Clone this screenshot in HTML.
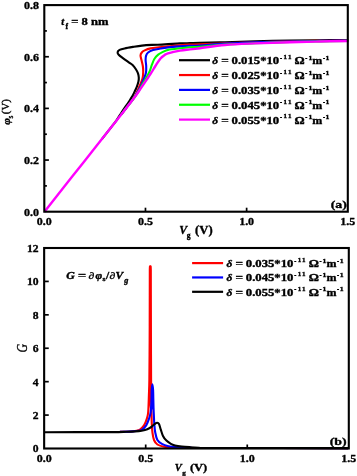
<!DOCTYPE html>
<html><head><meta charset="utf-8"><style>
html,body{margin:0;padding:0;background:#fff;}
svg{display:block;will-change:transform;filter:blur(0.25px);}
text{font-family:"Liberation Serif",serif;fill:#000;stroke:#000;stroke-width:0.35px;}
</style></head><body>
<svg width="357" height="476" viewBox="0 0 357 476">
<rect width="357" height="476" fill="#fff"/>
<path d="M101.70,139.30 C103.33,137.23 109.03,130.07 111.50,126.90 C113.97,123.73 114.83,122.70 116.50,120.30 C118.17,117.90 120.03,114.75 121.50,112.50 C122.97,110.25 124.13,108.50 125.30,106.80 C126.47,105.10 127.58,103.67 128.50,102.30 C129.42,100.93 130.03,99.85 130.80,98.60 C131.57,97.35 132.42,96.07 133.10,94.80 C133.78,93.53 134.28,92.33 134.90,91.00 C135.52,89.67 136.22,88.33 136.80,86.80 C137.38,85.27 138.07,83.33 138.40,81.80 C138.73,80.27 138.87,79.00 138.80,77.60 C138.73,76.20 138.48,74.80 138.00,73.40 C137.52,72.00 136.80,70.60 135.90,69.20 C135.00,67.80 133.78,66.15 132.60,65.00 C131.42,63.85 130.42,63.45 128.80,62.30 C127.18,61.15 124.58,59.37 122.90,58.10 C121.22,56.83 119.58,55.68 118.70,54.70 C117.82,53.72 117.45,53.00 117.60,52.20 C117.75,51.40 118.43,50.53 119.60,49.90 C120.77,49.27 122.37,48.90 124.60,48.40 C126.83,47.90 130.10,47.37 133.00,46.90 C135.90,46.43 138.83,45.93 142.00,45.60 C145.17,45.27 148.17,45.10 152.00,44.90 C155.83,44.70 160.33,44.65 165.00,44.40 C169.67,44.15 175.83,43.61 180.00,43.40 C184.17,43.19 186.67,43.23 190.00,43.15 C193.33,43.07 194.17,43.06 200.00,42.90 C205.83,42.74 215.83,42.47 225.00,42.20 C234.17,41.93 244.17,41.57 255.00,41.30 C265.83,41.03 279.17,40.77 290.00,40.60 C300.83,40.43 310.30,40.35 320.00,40.25 C329.70,40.15 343.50,40.04 348.20,40.00" stroke="#000" stroke-width="2.1" fill="none" stroke-linejoin="round"/>
<path d="M121.30,114.40 C122.42,112.93 126.18,108.00 128.00,105.60 C129.82,103.20 130.97,101.73 132.20,100.00 C133.43,98.27 134.42,96.95 135.40,95.20 C136.38,93.45 137.30,91.28 138.10,89.50 C138.90,87.72 139.47,86.33 140.20,84.50 C140.93,82.67 142.00,80.58 142.50,78.50 C143.00,76.42 143.13,74.00 143.20,72.00 C143.27,70.00 143.17,68.42 142.90,66.50 C142.63,64.58 142.00,62.32 141.60,60.50 C141.20,58.68 140.47,56.93 140.50,55.60 C140.53,54.27 141.10,53.37 141.80,52.50 C142.50,51.63 143.23,51.08 144.70,50.40 C146.17,49.72 148.22,48.92 150.60,48.40 C152.98,47.88 156.10,47.63 159.00,47.30 C161.90,46.97 164.50,46.75 168.00,46.40 C171.50,46.05 176.33,45.50 180.00,45.20 C183.67,44.90 186.67,44.74 190.00,44.60 C193.33,44.46 194.17,44.60 200.00,44.38 C205.83,44.17 215.83,43.68 225.00,43.32 C234.17,42.96 244.17,42.58 255.00,42.24 C265.83,41.91 279.17,41.56 290.00,41.32 C300.83,41.08 310.30,40.96 320.00,40.81 C329.70,40.67 343.50,40.51 348.20,40.45" stroke="#f00" stroke-width="2.1" fill="none" stroke-linejoin="round"/>
<path d="M121.30,114.40 C122.42,112.93 126.15,108.00 128.00,105.60 C129.85,103.20 131.12,101.73 132.40,100.00 C133.68,98.27 134.70,96.78 135.70,95.20 C136.70,93.62 137.55,92.03 138.40,90.50 C139.25,88.97 139.83,88.08 140.80,86.00 C141.77,83.92 143.33,80.25 144.20,78.00 C145.07,75.75 145.67,74.50 146.00,72.50 C146.33,70.50 146.27,68.08 146.20,66.00 C146.13,63.92 145.62,61.73 145.60,60.00 C145.58,58.27 145.68,56.85 146.10,55.60 C146.52,54.35 146.93,53.42 148.10,52.50 C149.27,51.58 151.00,50.77 153.10,50.10 C155.20,49.43 158.22,48.95 160.70,48.50 C163.18,48.05 164.78,47.75 168.00,47.40 C171.22,47.05 176.33,46.67 180.00,46.40 C183.67,46.13 186.67,45.96 190.00,45.80 C193.33,45.64 194.17,45.80 200.00,45.44 C205.83,45.09 215.83,44.16 225.00,43.66 C234.17,43.15 244.17,42.76 255.00,42.39 C265.83,42.02 279.17,41.68 290.00,41.43 C300.83,41.18 310.30,41.05 320.00,40.90 C329.70,40.75 343.50,40.58 348.20,40.52" stroke="#00f" stroke-width="2.1" fill="none" stroke-linejoin="round"/>
<path d="M121.30,114.40 C122.42,112.93 126.12,108.00 128.00,105.60 C129.88,103.20 131.27,101.73 132.60,100.00 C133.93,98.27 134.87,96.87 136.00,95.20 C137.13,93.53 138.37,91.78 139.40,90.00 C140.43,88.22 141.03,86.58 142.20,84.50 C143.37,82.42 145.17,79.67 146.40,77.50 C147.63,75.33 148.68,73.63 149.60,71.50 C150.52,69.37 151.08,66.82 151.90,64.70 C152.72,62.58 153.45,60.48 154.50,58.80 C155.55,57.12 156.78,55.75 158.20,54.60 C159.62,53.45 161.37,52.68 163.00,51.90 C164.63,51.12 165.17,50.50 168.00,49.90 C170.83,49.30 176.33,48.73 180.00,48.30 C183.67,47.87 186.67,47.56 190.00,47.30 C193.33,47.04 194.17,47.16 200.00,46.72 C205.83,46.28 215.83,45.24 225.00,44.66 C234.17,44.08 244.17,43.66 255.00,43.23 C265.83,42.80 279.17,42.38 290.00,42.07 C300.83,41.77 310.30,41.59 320.00,41.40 C329.70,41.21 343.50,41.00 348.20,40.92" stroke="#0f0" stroke-width="2.1" fill="none" stroke-linejoin="round"/>
<path d="M44.30,212.00 C49.08,205.93 63.43,187.72 73.00,175.60 C82.57,163.48 93.65,149.50 101.70,139.30 C109.75,129.10 115.53,121.78 121.30,114.40 C127.07,107.02 133.17,99.17 136.30,95.00 C139.43,90.83 138.62,91.60 140.10,89.40 C141.58,87.20 143.40,84.47 145.20,81.80 C147.00,79.13 149.20,76.03 150.90,73.40 C152.60,70.77 153.80,68.50 155.40,66.00 C157.00,63.50 158.97,60.23 160.50,58.40 C162.03,56.57 163.35,55.85 164.60,55.00 C165.85,54.15 165.43,54.03 168.00,53.30 C170.57,52.57 176.33,51.25 180.00,50.60 C183.67,49.95 186.67,49.80 190.00,49.40 C193.33,49.00 194.17,48.93 200.00,48.20 C205.83,47.47 215.83,45.80 225.00,45.00 C234.17,44.20 244.17,43.87 255.00,43.40 C265.83,42.93 279.17,42.52 290.00,42.20 C300.83,41.88 310.30,41.70 320.00,41.50 C329.70,41.30 343.50,41.08 348.20,41.00" stroke="#f0f" stroke-width="2.4" fill="none" stroke-linejoin="round"/>
<rect x="44.3" y="5.1" width="303.50" height="206.60" fill="none" stroke="#000" stroke-width="2.1"/>
<text transform="translate(39.00,215.60) scale(1.06,1)" font-size="11.3" text-anchor="end" font-weight="bold" font-style="normal">0.0</text>
<line x1="44.3" y1="185.88" x2="46.9" y2="185.88" stroke="#000" stroke-width="1.7"/>
<line x1="44.3" y1="160.05" x2="48.9" y2="160.05" stroke="#000" stroke-width="1.7"/>
<text transform="translate(39.00,163.95) scale(1.06,1)" font-size="11.3" text-anchor="end" font-weight="bold" font-style="normal">0.2</text>
<line x1="44.3" y1="134.22" x2="46.9" y2="134.22" stroke="#000" stroke-width="1.7"/>
<line x1="44.3" y1="108.40" x2="48.9" y2="108.40" stroke="#000" stroke-width="1.7"/>
<text transform="translate(39.00,112.30) scale(1.06,1)" font-size="11.3" text-anchor="end" font-weight="bold" font-style="normal">0.4</text>
<line x1="44.3" y1="82.57" x2="46.9" y2="82.57" stroke="#000" stroke-width="1.7"/>
<line x1="44.3" y1="56.75" x2="48.9" y2="56.75" stroke="#000" stroke-width="1.7"/>
<text transform="translate(39.00,60.65) scale(1.06,1)" font-size="11.3" text-anchor="end" font-weight="bold" font-style="normal">0.6</text>
<line x1="44.3" y1="30.92" x2="46.9" y2="30.92" stroke="#000" stroke-width="1.7"/>
<text transform="translate(39.00,9.00) scale(1.06,1)" font-size="11.3" text-anchor="end" font-weight="bold" font-style="normal">0.8</text>
<line x1="145.47" y1="211.7" x2="145.47" y2="207.7" stroke="#000" stroke-width="1.7"/>
<line x1="246.63" y1="211.7" x2="246.63" y2="207.7" stroke="#000" stroke-width="1.7"/>
<text transform="translate(44.30,224.60) scale(1.06,1)" font-size="11.3" text-anchor="middle" font-weight="bold" font-style="normal">0.0</text>
<text transform="translate(145.47,224.60) scale(1.06,1)" font-size="11.3" text-anchor="middle" font-weight="bold" font-style="normal">0.5</text>
<text transform="translate(246.63,224.60) scale(1.06,1)" font-size="11.3" text-anchor="middle" font-weight="bold" font-style="normal">1.0</text>
<text transform="translate(347.80,224.60) scale(1.06,1)" font-size="11.3" text-anchor="middle" font-weight="bold" font-style="normal">1.5</text>
<text transform="translate(179.30,234.00) scale(1.0,1)" font-size="11.8" text-anchor="start" font-weight="bold" font-style="italic">V</text>
<text transform="translate(186.70,237.90) scale(1.05,1)" font-size="7.2" text-anchor="start" font-weight="bold" font-style="normal">g</text>
<text transform="translate(195.10,234.30) scale(1.1,1)" font-size="11.5" text-anchor="start" font-weight="bold" font-style="normal">(V)</text>
<text transform="translate(330.80,207.90) scale(1.25,1)" font-size="11.0" text-anchor="start" font-weight="bold" font-style="normal">(a)</text>
<g transform="translate(8.9,124.8) rotate(-90)"><text transform="translate(0.00,1.10) scale(1.0,1)" font-size="11.3" text-anchor="start" font-weight="bold" font-style="italic">&#966;</text><text transform="translate(6.40,4.30) scale(1.0,1)" font-size="7.5" text-anchor="start" font-weight="normal" font-style="normal">s</text><text transform="translate(10.60,0.30) scale(1.0,1)" font-size="10.9" text-anchor="start" font-weight="normal" font-style="normal">(V)</text></g>
<text transform="translate(61.20,25.30) scale(1.0,1)" font-size="10.5" text-anchor="start" font-weight="bold" font-style="italic">t</text><text transform="translate(65.50,28.90) scale(1.0,1)" font-size="7.5" text-anchor="start" font-weight="bold" font-style="normal">f</text><text transform="translate(71.20,25.30) scale(1.2,1)" font-size="10.5" text-anchor="start" font-weight="bold" font-style="normal">= 8 nm</text>
<line x1="179" y1="60.20" x2="210" y2="60.20" stroke="#000" stroke-width="2.2"/><text transform="translate(212.30,64.20) scale(1.15,1)" font-size="10" text-anchor="start" font-weight="bold" font-style="italic">&#948;</text><text transform="translate(221.20,64.20) scale(1.32,1)" font-size="10" text-anchor="start" font-weight="bold" font-style="normal">=</text><text transform="translate(231.60,64.20) scale(1.27,1)" font-size="10" text-anchor="start" font-weight="bold" font-style="normal">0.015*10</text><text transform="translate(280.10,59.80) scale(0.9,1)" font-size="7" text-anchor="start" font-weight="bold" font-style="normal">-</text><text transform="translate(283.60,59.00) scale(1.0,1)" font-size="7" text-anchor="start" font-weight="bold" font-style="normal">1</text><text transform="translate(287.90,59.00) scale(1.0,1)" font-size="7" text-anchor="start" font-weight="bold" font-style="normal">1</text><text transform="translate(294.60,64.20) scale(1.27,1)" font-size="10" text-anchor="start" font-weight="bold" font-style="normal">&#937;</text><text transform="translate(305.30,59.80) scale(0.9,1)" font-size="7" text-anchor="start" font-weight="bold" font-style="normal">-</text><text transform="translate(308.40,59.80) scale(1.1,1)" font-size="7" text-anchor="start" font-weight="bold" font-style="normal">1</text><text transform="translate(312.30,64.20) scale(1.2,1)" font-size="10" text-anchor="start" font-weight="bold" font-style="normal">m</text><text transform="translate(322.90,59.80) scale(0.9,1)" font-size="7" text-anchor="start" font-weight="bold" font-style="normal">-</text><text transform="translate(325.60,59.80) scale(1.1,1)" font-size="7" text-anchor="start" font-weight="bold" font-style="normal">1</text>
<line x1="179" y1="75.05" x2="210" y2="75.05" stroke="#f00" stroke-width="2.2"/><text transform="translate(212.30,79.05) scale(1.15,1)" font-size="10" text-anchor="start" font-weight="bold" font-style="italic">&#948;</text><text transform="translate(221.20,79.05) scale(1.32,1)" font-size="10" text-anchor="start" font-weight="bold" font-style="normal">=</text><text transform="translate(231.60,79.05) scale(1.27,1)" font-size="10" text-anchor="start" font-weight="bold" font-style="normal">0.025*10</text><text transform="translate(280.10,74.65) scale(0.9,1)" font-size="7" text-anchor="start" font-weight="bold" font-style="normal">-</text><text transform="translate(283.60,73.85) scale(1.0,1)" font-size="7" text-anchor="start" font-weight="bold" font-style="normal">1</text><text transform="translate(287.90,73.85) scale(1.0,1)" font-size="7" text-anchor="start" font-weight="bold" font-style="normal">1</text><text transform="translate(294.60,79.05) scale(1.27,1)" font-size="10" text-anchor="start" font-weight="bold" font-style="normal">&#937;</text><text transform="translate(305.30,74.65) scale(0.9,1)" font-size="7" text-anchor="start" font-weight="bold" font-style="normal">-</text><text transform="translate(308.40,74.65) scale(1.1,1)" font-size="7" text-anchor="start" font-weight="bold" font-style="normal">1</text><text transform="translate(312.30,79.05) scale(1.2,1)" font-size="10" text-anchor="start" font-weight="bold" font-style="normal">m</text><text transform="translate(322.90,74.65) scale(0.9,1)" font-size="7" text-anchor="start" font-weight="bold" font-style="normal">-</text><text transform="translate(325.60,74.65) scale(1.1,1)" font-size="7" text-anchor="start" font-weight="bold" font-style="normal">1</text>
<line x1="179" y1="89.90" x2="210" y2="89.90" stroke="#00f" stroke-width="2.2"/><text transform="translate(212.30,93.90) scale(1.15,1)" font-size="10" text-anchor="start" font-weight="bold" font-style="italic">&#948;</text><text transform="translate(221.20,93.90) scale(1.32,1)" font-size="10" text-anchor="start" font-weight="bold" font-style="normal">=</text><text transform="translate(231.60,93.90) scale(1.27,1)" font-size="10" text-anchor="start" font-weight="bold" font-style="normal">0.035*10</text><text transform="translate(280.10,89.50) scale(0.9,1)" font-size="7" text-anchor="start" font-weight="bold" font-style="normal">-</text><text transform="translate(283.60,88.70) scale(1.0,1)" font-size="7" text-anchor="start" font-weight="bold" font-style="normal">1</text><text transform="translate(287.90,88.70) scale(1.0,1)" font-size="7" text-anchor="start" font-weight="bold" font-style="normal">1</text><text transform="translate(294.60,93.90) scale(1.27,1)" font-size="10" text-anchor="start" font-weight="bold" font-style="normal">&#937;</text><text transform="translate(305.30,89.50) scale(0.9,1)" font-size="7" text-anchor="start" font-weight="bold" font-style="normal">-</text><text transform="translate(308.40,89.50) scale(1.1,1)" font-size="7" text-anchor="start" font-weight="bold" font-style="normal">1</text><text transform="translate(312.30,93.90) scale(1.2,1)" font-size="10" text-anchor="start" font-weight="bold" font-style="normal">m</text><text transform="translate(322.90,89.50) scale(0.9,1)" font-size="7" text-anchor="start" font-weight="bold" font-style="normal">-</text><text transform="translate(325.60,89.50) scale(1.1,1)" font-size="7" text-anchor="start" font-weight="bold" font-style="normal">1</text>
<line x1="179" y1="104.75" x2="210" y2="104.75" stroke="#0f0" stroke-width="2.2"/><text transform="translate(212.30,108.75) scale(1.15,1)" font-size="10" text-anchor="start" font-weight="bold" font-style="italic">&#948;</text><text transform="translate(221.20,108.75) scale(1.32,1)" font-size="10" text-anchor="start" font-weight="bold" font-style="normal">=</text><text transform="translate(231.60,108.75) scale(1.27,1)" font-size="10" text-anchor="start" font-weight="bold" font-style="normal">0.045*10</text><text transform="translate(280.10,104.35) scale(0.9,1)" font-size="7" text-anchor="start" font-weight="bold" font-style="normal">-</text><text transform="translate(283.60,103.55) scale(1.0,1)" font-size="7" text-anchor="start" font-weight="bold" font-style="normal">1</text><text transform="translate(287.90,103.55) scale(1.0,1)" font-size="7" text-anchor="start" font-weight="bold" font-style="normal">1</text><text transform="translate(294.60,108.75) scale(1.27,1)" font-size="10" text-anchor="start" font-weight="bold" font-style="normal">&#937;</text><text transform="translate(305.30,104.35) scale(0.9,1)" font-size="7" text-anchor="start" font-weight="bold" font-style="normal">-</text><text transform="translate(308.40,104.35) scale(1.1,1)" font-size="7" text-anchor="start" font-weight="bold" font-style="normal">1</text><text transform="translate(312.30,108.75) scale(1.2,1)" font-size="10" text-anchor="start" font-weight="bold" font-style="normal">m</text><text transform="translate(322.90,104.35) scale(0.9,1)" font-size="7" text-anchor="start" font-weight="bold" font-style="normal">-</text><text transform="translate(325.60,104.35) scale(1.1,1)" font-size="7" text-anchor="start" font-weight="bold" font-style="normal">1</text>
<line x1="179" y1="119.60" x2="210" y2="119.60" stroke="#f0f" stroke-width="2.2"/><text transform="translate(212.30,123.60) scale(1.15,1)" font-size="10" text-anchor="start" font-weight="bold" font-style="italic">&#948;</text><text transform="translate(221.20,123.60) scale(1.32,1)" font-size="10" text-anchor="start" font-weight="bold" font-style="normal">=</text><text transform="translate(231.60,123.60) scale(1.27,1)" font-size="10" text-anchor="start" font-weight="bold" font-style="normal">0.055*10</text><text transform="translate(280.10,119.20) scale(0.9,1)" font-size="7" text-anchor="start" font-weight="bold" font-style="normal">-</text><text transform="translate(283.60,118.40) scale(1.0,1)" font-size="7" text-anchor="start" font-weight="bold" font-style="normal">1</text><text transform="translate(287.90,118.40) scale(1.0,1)" font-size="7" text-anchor="start" font-weight="bold" font-style="normal">1</text><text transform="translate(294.60,123.60) scale(1.27,1)" font-size="10" text-anchor="start" font-weight="bold" font-style="normal">&#937;</text><text transform="translate(305.30,119.20) scale(0.9,1)" font-size="7" text-anchor="start" font-weight="bold" font-style="normal">-</text><text transform="translate(308.40,119.20) scale(1.1,1)" font-size="7" text-anchor="start" font-weight="bold" font-style="normal">1</text><text transform="translate(312.30,123.60) scale(1.2,1)" font-size="10" text-anchor="start" font-weight="bold" font-style="normal">m</text><text transform="translate(322.90,119.20) scale(0.9,1)" font-size="7" text-anchor="start" font-weight="bold" font-style="normal">-</text><text transform="translate(325.60,119.20) scale(1.1,1)" font-size="7" text-anchor="start" font-weight="bold" font-style="normal">1</text>
<path d="M120.00,431.90 C122.00,431.83 128.75,431.83 132.00,431.50 C135.25,431.17 137.50,430.92 139.50,429.90 C141.50,428.88 142.78,427.27 144.00,425.40 C145.22,423.53 146.10,420.93 146.80,418.70 C147.50,416.47 147.85,415.95 148.20,412.00 C148.55,408.05 148.71,400.33 148.90,395.00 C149.09,389.67 149.22,389.17 149.35,380.00 C149.47,370.83 149.58,353.33 149.65,340.00 C149.72,326.67 149.72,311.67 149.75,300.00 C149.78,288.33 149.71,275.53 149.80,270.00 C149.89,264.47 150.13,266.80 150.30,266.80 C150.47,266.80 150.71,264.47 150.80,270.00 C150.89,275.53 150.82,288.33 150.85,300.00 C150.88,311.67 150.91,326.67 150.95,340.00 C150.99,353.33 151.04,370.00 151.10,380.00 C151.16,390.00 151.23,394.33 151.30,400.00 C151.37,405.67 151.42,410.00 151.50,414.00 C151.58,418.00 151.65,420.97 151.80,424.00 C151.95,427.03 152.03,429.53 152.40,432.20 C152.77,434.87 153.17,437.95 154.00,440.00 C154.83,442.05 155.72,443.38 157.40,444.50 C159.08,445.62 161.17,446.20 164.10,446.70 C167.03,447.20 170.68,447.32 175.00,447.50 C179.32,447.68 185.00,447.72 190.00,447.80 C195.00,447.88 178.63,447.95 205.00,448.00 C231.37,448.05 324.33,448.08 348.20,448.10" stroke="#f00" stroke-width="2.1" fill="none" stroke-linejoin="round"/>
<path d="M148.20,412.00 C148.32,409.17 148.71,400.33 148.90,395.00 C149.09,389.67 149.22,389.17 149.35,380.00 C149.47,370.83 149.58,353.33 149.65,340.00 C149.72,326.67 149.72,311.67 149.75,300.00 C149.78,288.33 149.71,275.53 149.80,270.00 C149.89,264.47 150.13,266.80 150.30,266.80 C150.47,266.80 150.71,264.47 150.80,270.00 C150.89,275.53 150.82,288.33 150.85,300.00 C150.88,311.67 150.91,326.67 150.95,340.00 C150.99,353.33 151.04,370.00 151.10,380.00 C151.16,390.00 151.27,396.67 151.30,400.00 Z" fill="#f00" stroke="none"/>
<path d="M120.00,431.90 C122.17,431.82 129.38,431.73 133.00,431.40 C136.62,431.07 139.50,430.90 141.70,429.90 C143.90,428.90 144.98,427.27 146.20,425.40 C147.42,423.53 148.25,420.93 149.00,418.70 C149.75,416.47 150.29,415.12 150.70,412.00 C151.11,408.88 151.28,403.67 151.45,400.00 C151.62,396.33 151.54,392.62 151.70,390.00 C151.86,387.38 152.17,384.30 152.40,384.30 C152.63,384.30 152.95,387.72 153.10,390.00 C153.25,392.28 153.23,395.00 153.30,398.00 C153.38,401.00 153.46,405.17 153.55,408.00 C153.64,410.83 153.72,412.33 153.85,415.00 C153.97,417.67 154.08,421.13 154.30,424.00 C154.53,426.87 154.68,429.53 155.20,432.20 C155.72,434.87 156.28,438.05 157.40,440.00 C158.52,441.95 160.03,442.87 161.90,443.90 C163.77,444.93 166.42,445.68 168.60,446.20 C170.78,446.72 171.43,446.77 175.00,447.00 C178.57,447.23 185.00,447.43 190.00,447.60 C195.00,447.77 178.63,447.92 205.00,448.00 C231.37,448.08 324.33,448.08 348.20,448.10" stroke="#00f" stroke-width="2.1" fill="none" stroke-linejoin="round"/>
<path d="M150.70,412.00 C150.82,410.00 151.28,403.67 151.45,400.00 C151.62,396.33 151.54,392.62 151.70,390.00 C151.86,387.38 152.17,384.30 152.40,384.30 C152.63,384.30 152.95,387.72 153.10,390.00 C153.25,392.28 153.23,395.00 153.30,398.00 C153.38,401.00 153.51,406.33 153.55,408.00 Z" fill="#00f" stroke="none"/>
<path d="M44.30,432.20 C55.25,432.18 96.38,432.17 110.00,432.10 C123.62,432.03 121.83,431.92 126.00,431.80 C130.17,431.68 132.38,431.58 135.00,431.40 C137.62,431.22 139.65,431.05 141.70,430.70 C143.75,430.35 145.62,429.98 147.30,429.30 C148.98,428.62 150.48,427.55 151.80,426.60 C153.12,425.65 154.30,424.25 155.20,423.60 C156.10,422.95 156.57,422.63 157.20,422.70 C157.83,422.77 158.40,422.85 159.00,424.00 C159.60,425.15 160.13,427.62 160.80,429.60 C161.47,431.58 162.07,434.07 163.00,435.90 C163.93,437.73 165.08,439.27 166.40,440.60 C167.72,441.93 169.47,443.10 170.90,443.90 C172.33,444.70 173.18,444.97 175.00,445.40 C176.82,445.83 179.30,446.20 181.80,446.50 C184.30,446.80 187.20,447.00 190.00,447.20 C192.80,447.40 195.27,447.57 198.60,447.70 C201.93,447.83 185.07,447.93 210.00,448.00 C234.93,448.07 325.17,448.08 348.20,448.10" stroke="#000" stroke-width="2.1" fill="none" stroke-linejoin="round"/>
<rect x="44.15" y="248.0" width="304.65" height="200.50" fill="none" stroke="#000" stroke-width="2.1"/>
<text transform="translate(38.60,452.40) scale(1.03,1)" font-size="11.3" text-anchor="end" font-weight="bold" font-style="normal">0</text>
<line x1="44.15" y1="415.08" x2="48.75" y2="415.08" stroke="#000" stroke-width="1.7"/>
<text transform="translate(38.60,418.98) scale(1.03,1)" font-size="11.3" text-anchor="end" font-weight="bold" font-style="normal">2</text>
<line x1="44.15" y1="381.67" x2="48.75" y2="381.67" stroke="#000" stroke-width="1.7"/>
<text transform="translate(38.60,385.57) scale(1.03,1)" font-size="11.3" text-anchor="end" font-weight="bold" font-style="normal">4</text>
<line x1="44.15" y1="348.25" x2="48.75" y2="348.25" stroke="#000" stroke-width="1.7"/>
<text transform="translate(38.60,352.15) scale(1.03,1)" font-size="11.3" text-anchor="end" font-weight="bold" font-style="normal">6</text>
<line x1="44.15" y1="314.83" x2="48.75" y2="314.83" stroke="#000" stroke-width="1.7"/>
<text transform="translate(38.60,318.73) scale(1.03,1)" font-size="11.3" text-anchor="end" font-weight="bold" font-style="normal">8</text>
<line x1="44.15" y1="281.42" x2="48.75" y2="281.42" stroke="#000" stroke-width="1.7"/>
<text transform="translate(38.60,285.32) scale(1.03,1)" font-size="11.3" text-anchor="end" font-weight="bold" font-style="normal">10</text>
<text transform="translate(38.60,251.90) scale(1.03,1)" font-size="11.3" text-anchor="end" font-weight="bold" font-style="normal">12</text>
<line x1="145.70" y1="448.5" x2="145.70" y2="444.5" stroke="#000" stroke-width="1.7"/>
<line x1="247.25" y1="448.5" x2="247.25" y2="444.5" stroke="#000" stroke-width="1.7"/>
<text transform="translate(44.15,461.60) scale(1.06,1)" font-size="11.3" text-anchor="middle" font-weight="bold" font-style="normal">0.0</text>
<text transform="translate(145.70,461.60) scale(1.06,1)" font-size="11.3" text-anchor="middle" font-weight="bold" font-style="normal">0.5</text>
<text transform="translate(247.25,461.60) scale(1.06,1)" font-size="11.3" text-anchor="middle" font-weight="bold" font-style="normal">1.0</text>
<text transform="translate(348.80,461.60) scale(1.06,1)" font-size="11.3" text-anchor="middle" font-weight="bold" font-style="normal">1.5</text>
<text transform="translate(174.80,471.00) scale(1.0,1)" font-size="10.5" text-anchor="start" font-weight="bold" font-style="italic">V</text>
<text transform="translate(182.20,474.80) scale(1.05,1)" font-size="6.8" text-anchor="start" font-weight="bold" font-style="normal">g</text>
<text transform="translate(189.90,471.30) scale(1.1,1)" font-size="11.4" text-anchor="start" font-weight="bold" font-style="normal">(V)</text>
<text transform="translate(329.70,444.50) scale(1.25,1)" font-size="11.0" text-anchor="start" font-weight="bold" font-style="normal">(b)</text>
<g transform="translate(26.9,352.4) rotate(-90)"><text transform="translate(0.00,0.00) scale(0.82,1)" font-size="14.5" text-anchor="start" font-weight="normal" font-style="italic">G</text></g>
<text transform="translate(66.30,278.60) scale(1.25,1)" font-size="9.5" text-anchor="start" font-weight="bold" font-style="italic">G</text><text transform="translate(77.90,278.60) scale(1.5,1)" font-size="9.5" text-anchor="start" font-weight="bold" font-style="normal">=</text><text transform="translate(88.60,278.60) scale(1.2,1)" font-size="9.5" text-anchor="start" font-weight="bold" font-style="italic">&#8706;</text><text transform="translate(95.60,278.60) scale(1.2,1)" font-size="9.5" text-anchor="start" font-weight="bold" font-style="italic">&#966;</text><text transform="translate(102.60,281.00) scale(1.1,1)" font-size="7" text-anchor="start" font-weight="bold" font-style="normal">s</text><text transform="translate(106.00,278.60) scale(1.2,1)" font-size="9.5" text-anchor="start" font-weight="bold" font-style="normal">/</text><text transform="translate(109.40,278.60) scale(1.2,1)" font-size="9.5" text-anchor="start" font-weight="bold" font-style="italic">&#8706;</text><text transform="translate(115.50,278.60) scale(1.2,1)" font-size="9.5" text-anchor="start" font-weight="bold" font-style="italic">V</text><text transform="translate(124.30,282.80) scale(1.1,1)" font-size="7.5" text-anchor="start" font-weight="bold" font-style="italic">g</text>
<line x1="192.1" y1="263.10" x2="223.1" y2="263.10" stroke="#f00" stroke-width="2.2"/><text transform="translate(226.50,267.10) scale(1.15,1)" font-size="10" text-anchor="start" font-weight="bold" font-style="italic">&#948;</text><text transform="translate(235.40,267.10) scale(1.32,1)" font-size="10" text-anchor="start" font-weight="bold" font-style="normal">=</text><text transform="translate(245.80,267.10) scale(1.27,1)" font-size="10" text-anchor="start" font-weight="bold" font-style="normal">0.035*10</text><text transform="translate(294.30,262.70) scale(0.9,1)" font-size="7" text-anchor="start" font-weight="bold" font-style="normal">-</text><text transform="translate(297.80,261.90) scale(1.0,1)" font-size="7" text-anchor="start" font-weight="bold" font-style="normal">1</text><text transform="translate(302.10,261.90) scale(1.0,1)" font-size="7" text-anchor="start" font-weight="bold" font-style="normal">1</text><text transform="translate(308.80,267.10) scale(1.27,1)" font-size="10" text-anchor="start" font-weight="bold" font-style="normal">&#937;</text><text transform="translate(319.50,262.70) scale(0.9,1)" font-size="7" text-anchor="start" font-weight="bold" font-style="normal">-</text><text transform="translate(322.60,262.70) scale(1.1,1)" font-size="7" text-anchor="start" font-weight="bold" font-style="normal">1</text><text transform="translate(326.50,267.10) scale(1.2,1)" font-size="10" text-anchor="start" font-weight="bold" font-style="normal">m</text><text transform="translate(337.10,262.70) scale(0.9,1)" font-size="7" text-anchor="start" font-weight="bold" font-style="normal">-</text><text transform="translate(339.80,262.70) scale(1.1,1)" font-size="7" text-anchor="start" font-weight="bold" font-style="normal">1</text>
<line x1="192.1" y1="277.45" x2="223.1" y2="277.45" stroke="#00f" stroke-width="2.2"/><text transform="translate(226.50,281.45) scale(1.15,1)" font-size="10" text-anchor="start" font-weight="bold" font-style="italic">&#948;</text><text transform="translate(235.40,281.45) scale(1.32,1)" font-size="10" text-anchor="start" font-weight="bold" font-style="normal">=</text><text transform="translate(245.80,281.45) scale(1.27,1)" font-size="10" text-anchor="start" font-weight="bold" font-style="normal">0.045*10</text><text transform="translate(294.30,277.05) scale(0.9,1)" font-size="7" text-anchor="start" font-weight="bold" font-style="normal">-</text><text transform="translate(297.80,276.25) scale(1.0,1)" font-size="7" text-anchor="start" font-weight="bold" font-style="normal">1</text><text transform="translate(302.10,276.25) scale(1.0,1)" font-size="7" text-anchor="start" font-weight="bold" font-style="normal">1</text><text transform="translate(308.80,281.45) scale(1.27,1)" font-size="10" text-anchor="start" font-weight="bold" font-style="normal">&#937;</text><text transform="translate(319.50,277.05) scale(0.9,1)" font-size="7" text-anchor="start" font-weight="bold" font-style="normal">-</text><text transform="translate(322.60,277.05) scale(1.1,1)" font-size="7" text-anchor="start" font-weight="bold" font-style="normal">1</text><text transform="translate(326.50,281.45) scale(1.2,1)" font-size="10" text-anchor="start" font-weight="bold" font-style="normal">m</text><text transform="translate(337.10,277.05) scale(0.9,1)" font-size="7" text-anchor="start" font-weight="bold" font-style="normal">-</text><text transform="translate(339.80,277.05) scale(1.1,1)" font-size="7" text-anchor="start" font-weight="bold" font-style="normal">1</text>
<line x1="192.1" y1="291.80" x2="223.1" y2="291.80" stroke="#000" stroke-width="2.2"/><text transform="translate(226.50,295.80) scale(1.15,1)" font-size="10" text-anchor="start" font-weight="bold" font-style="italic">&#948;</text><text transform="translate(235.40,295.80) scale(1.32,1)" font-size="10" text-anchor="start" font-weight="bold" font-style="normal">=</text><text transform="translate(245.80,295.80) scale(1.27,1)" font-size="10" text-anchor="start" font-weight="bold" font-style="normal">0.055*10</text><text transform="translate(294.30,291.40) scale(0.9,1)" font-size="7" text-anchor="start" font-weight="bold" font-style="normal">-</text><text transform="translate(297.80,290.60) scale(1.0,1)" font-size="7" text-anchor="start" font-weight="bold" font-style="normal">1</text><text transform="translate(302.10,290.60) scale(1.0,1)" font-size="7" text-anchor="start" font-weight="bold" font-style="normal">1</text><text transform="translate(308.80,295.80) scale(1.27,1)" font-size="10" text-anchor="start" font-weight="bold" font-style="normal">&#937;</text><text transform="translate(319.50,291.40) scale(0.9,1)" font-size="7" text-anchor="start" font-weight="bold" font-style="normal">-</text><text transform="translate(322.60,291.40) scale(1.1,1)" font-size="7" text-anchor="start" font-weight="bold" font-style="normal">1</text><text transform="translate(326.50,295.80) scale(1.2,1)" font-size="10" text-anchor="start" font-weight="bold" font-style="normal">m</text><text transform="translate(337.10,291.40) scale(0.9,1)" font-size="7" text-anchor="start" font-weight="bold" font-style="normal">-</text><text transform="translate(339.80,291.40) scale(1.1,1)" font-size="7" text-anchor="start" font-weight="bold" font-style="normal">1</text>
</svg></body></html>
